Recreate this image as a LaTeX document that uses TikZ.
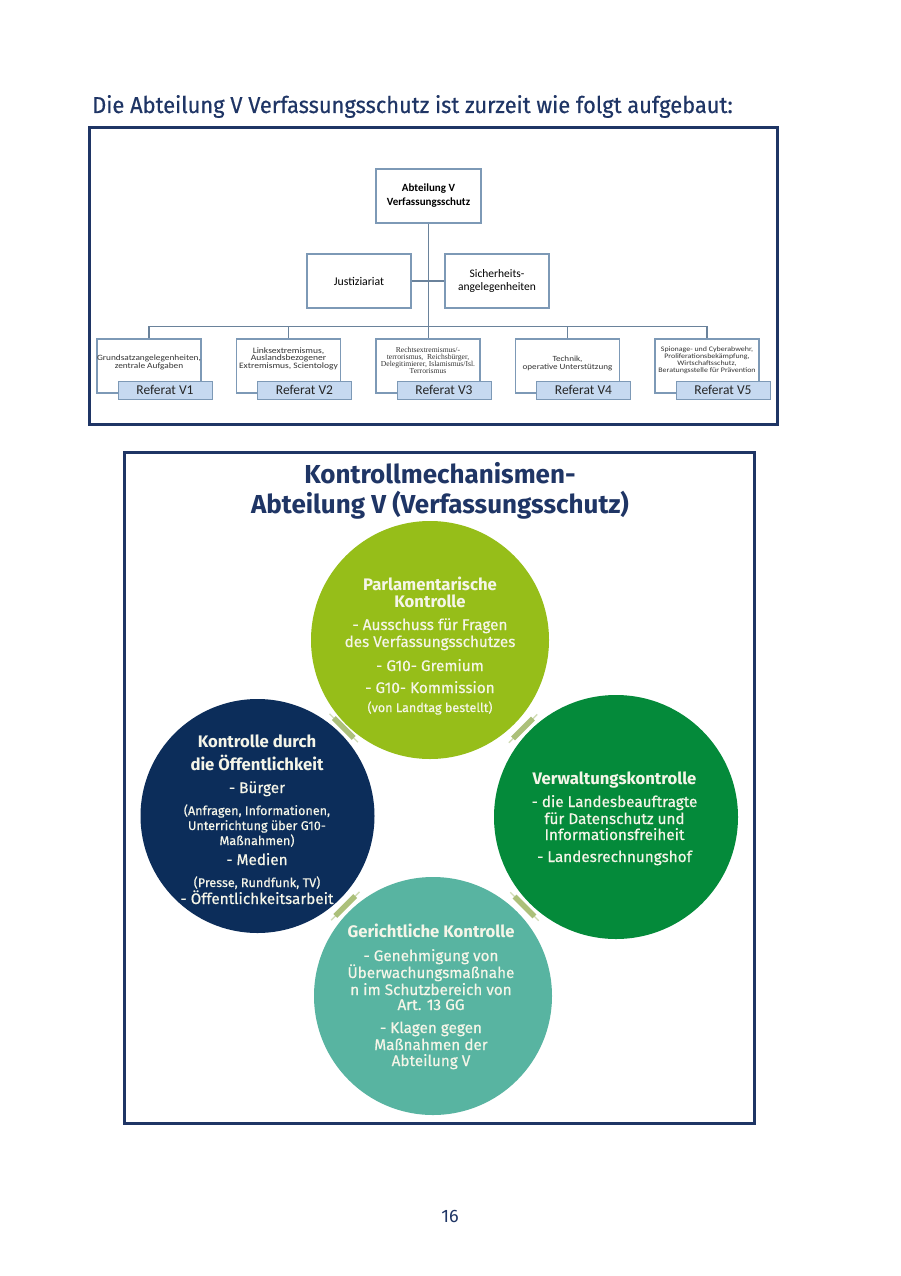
\documentclass[tikz,border=0pt]{standalone}
\usepackage{fontspec}
\setmainfont{Fira Sans}
\newfontfamily\carl{Carlito}
\newfontfamily\orgf[FakeStretch=1.15]{Carlito}
\newfontfamily\headf[FakeStretch=0.95,FakeBold=0.4]{Fira Sans}
\newfontfamily\medf[FakeBold=0.5]{Fira Sans}
\usetikzlibrary{calc}
\definecolor{navy}{RGB}{31,53,101}
\definecolor{boxline}{RGB}{125,153,182}
\definecolor{reffill}{RGB}{198,217,240}
\definecolor{cParl}{RGB}{150,190,25}
\definecolor{cVerw}{RGB}{4,138,58}
\definecolor{cOeff}{RGB}{12,45,90}
\definecolor{cGer}{RGB}{88,180,161}
\definecolor{txtw}{RGB}{245,245,232}
\definecolor{barc}{RGB}{172,192,122}
\newcommand\cfb{\fontsize{16.7}{18}\selectfont\bfseries}
\newcommand\cfr{\medf\fontsize{15.3}{17}\selectfont}
\newcommand\cfs{\medf\fontsize{12.6}{14}\selectfont}
\begin{document}
\begin{tikzpicture}[x=1pt,y=-1pt,
  frame/.style={draw=navy, line width=3pt},
  orgbox/.style={draw=boxline, line width=1.2pt, fill=white, minimum width=104pt, minimum height=54pt, inner sep=0pt},
  orgtext/.style={align=center, text=black!80, inner sep=0pt},
  reflabel/.style={draw=boxline, line width=1pt, fill=reffill, minimum width=94pt, minimum height=18pt, inner sep=0pt, font=\carl\fontsize{13.5}{14}\selectfont, text=black!85},
  orgline/.style={draw=boxline!85!black, line width=1.2pt},
  disc/.style={circle, inner sep=0pt, minimum size=#1},
  ctext/.style={text=txtw, inner sep=0pt, anchor=base},
  gapbar/.pic={\draw[barc!55!white, line width=1.4pt] (-20,0)--(20,0); \draw[barc, line width=5.5pt] (-14,0)--(14,0);}
]
\useasboundingbox (0,0) rectangle (900,1276);
\fill[white] (0,0) rectangle (900,1276);

% heading
\node[anchor=base west, inner sep=0pt, text=navy, font=\headf\fontsize{23}{24}\selectfont] (head) at (92,113) {Die Abteilung V Verfassungsschutz ist zurzeit wie folgt aufgebaut:};

% ---------- org chart frame
\draw[frame] (89.5,127.5) rectangle (777.5,424);

\node[orgbox, minimum width=105pt, font=\carl\bfseries\fontsize{11}{14}\selectfont, align=center] (abt) at (428.5,196) {Abteilung V\\Verfassungsschutz};
\node[orgbox, font=\carl\fontsize{11.8}{12.5}\selectfont, align=center] (just) at (359,281) {Justiziariat};
\node[orgbox, font=\carl\fontsize{11.5}{12.5}\selectfont, align=center] (sich) at (497,281) {Sicherheits-\\angelegenheiten};

\foreach \i/\x in {1/149,2/288.5,3/428,4/567.5,5/707}{
  \node[orgbox] (r\i) at (\x,366) {};
  \node[reflabel] (ref\i) at (\x+16,390) {Referat V\i};
}
\node[orgtext, font=\orgf\fontsize{8.1}{8}\selectfont] (t1) at (149,362) {Grundsatzangelegenheiten,\\zentrale Aufgaben};
\node[orgtext, font=\orgf\fontsize{8.3}{7.6}\selectfont] (t2) at (288.5,358.5) {Linksextremismus,\\Auslandsbezogener\\Extremismus, Scientology};
\node[orgtext, font=\fontspec{Liberation Serif}\fontsize{7.6}{7}\selectfont] (t3) at (428,360.5) {Rechtsextremismus/-\\terrorismus,\ \ Reichsbürger,\\Delegitimierer, Islamismus/Isl.\\Terrorismus};
\node[orgtext, font=\orgf\fontsize{7.9}{7.5}\selectfont] (t4) at (567.5,363.5) {Technik,\\operative Unterstützung};
\node[orgtext, font=\orgf\fontsize{6.9}{7}\selectfont] (t5) at (707,360.5) {Spionage- und Cyberabwehr,\\Proliferationsbekämpfung,\\Wirtschaftsschutz,\\Beratungsstelle für Prävention};

\draw[orgline] (abt.south) -- (abt.south |- r3.north);
\draw[orgline] (just.east) -- (sich.west);
\draw[orgline] (r1.north) -- ++(0,-12) coordinate (busL) -| (r5.north);
\foreach \i in {2,4}{\draw[orgline] (r\i.north) -- (r\i.north |- busL);}

% ---------- control mechanisms frame
\draw[frame] (124,452.5) rectangle (754.5,1123.5);
\node[align=center, text=navy, inner sep=0pt, font=\bfseries\fontsize{26}{30.5}\selectfont] (title) at (440,491) {Kontrollmechanismen-\\Abteilung V (Verfassungsschutz)};

\node[disc=238pt, fill=cParl] (parl) at (430,640) {};
\node[disc=234pt, fill=cOeff] (oeff) at (257.5,816) {};
\node[disc=244pt, fill=cVerw] (verw) at (616,817) {};
\node[disc=238pt, fill=cGer] (ger) at (433,996) {};

\pic[rotate=-45] at ($(oeff)!0.5!(parl)$) {gapbar};
\pic[rotate=45] at ($(parl)!0.5!(verw)$) {gapbar};
\pic[rotate=45] at ($(oeff)!0.5!(ger)$) {gapbar};
\pic[rotate=-45] at ($(verw)!0.5!(ger)$) {gapbar};

\foreach \y/\f/\t [count=\i] in {
  590/\cfb/Parlamentarische, 607/\cfb/Kontrolle,
  {630/\cfr/- Ausschuss für Fragen}, 647/\cfr/des Verfassungsschutzes,
  {671/\cfr/- G10- Gremium}, {693/\cfr/- G10- Kommission},
  {712/\cfs/(von Landtag bestellt)}}
  \node[ctext, font=\f] (parl-\i) at (430,\y) {\t};

\foreach \y/\f/\t [count=\i] in {
  {747/\cfb/Kontrolle durch}, {770/\cfb/die Öffentlichkeit},
  {793/\cfr/- Bürger}, {815/\cfs/(Anfragen, Informationen,},
  {830/\cfs/Unterrichtung über G10-}, {845/\cfs/Maßnahmen)},
  {865/\cfr/- Medien}, {887/\cfs/(Presse, Rundfunk, TV)},
  {904/\cfr/- Öffentlichkeitsarbeit}}
  \node[ctext, font=\f] (oeff-\i) at (257,\y) {\t};

\foreach \y/\f/\t [count=\i] in {
  784/\cfb/Verwaltungskontrolle, {807/\cfr/- die Landesbeauftragte},
  {824/\cfr/für Datenschutz und}, 840/\cfr/Informationsfreiheit,
  {862/\cfr/- Landesrechnungshof}}
  \node[ctext, font=\f] (verw-\i) at (614.5,\y) {\t};

\foreach \y/\f/\t [count=\i] in {
  {937/\cfb/Gerichtliche Kontrolle}, {961/\cfr/- Genehmigung von},
  978/\cfr/Überwachungsmaßnahe, {995/\cfr/n im Schutzbereich von},
  {1010/\cfr/Art. 13 GG}, {1033/\cfr/- Klagen gegen},
  {1050/\cfr/Maßnahmen der}, {1066/\cfr/Abteilung V}}
  \node[ctext, font=\f] (ger-\i) at (431,\y) {\t};

% page number
\node[text=navy, font=\fontsize{18}{20}\selectfont, inner sep=0pt] (page) at (450,1216) {16};
\end{tikzpicture}
\end{document}
